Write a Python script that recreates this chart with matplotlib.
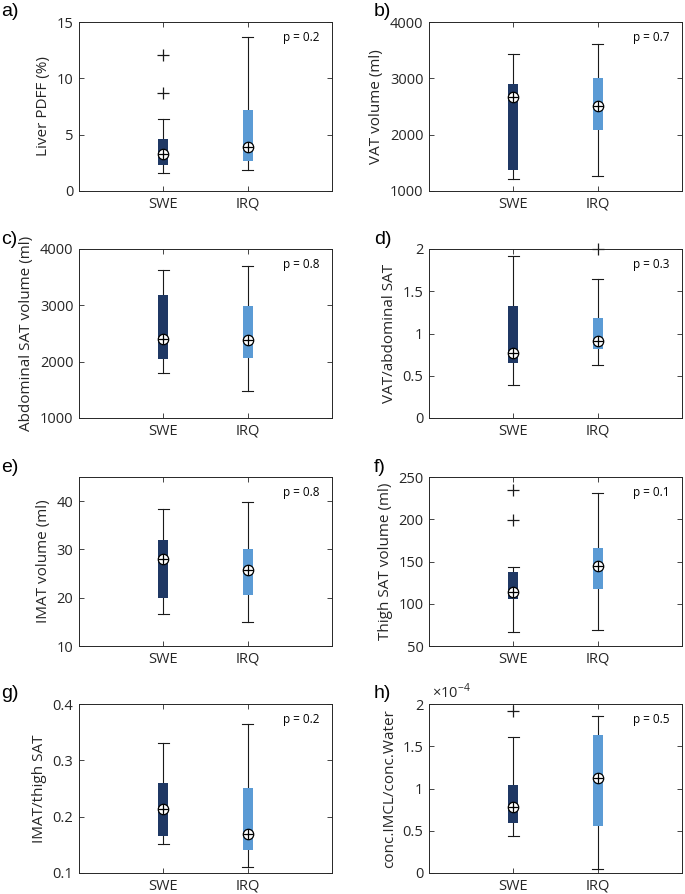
import matplotlib
matplotlib.use('Agg')
from matplotlib import pyplot as plt
import matplotlib.ticker as ticker

# five-number summaries: [whislo, q1, median, q3, whishi]
groups = ['SWE', 'IRQ']

liver_swe = [1.6, 2.34, 3.3, 4.6, 6.4]
liver_irq = [1.83, 2.7, 3.9, 7.15, 13.7]
liver_swe_out = [8.7, 12.1]
liver_irq_out = []

vat_swe = [1219, 1367, 2669, 2893, 3426]
vat_irq = [1272, 2077, 2515, 3012, 3615]
vat_swe_out = []
vat_irq_out = []

asat_swe = [1794, 2047, 2400, 3176, 3635]
asat_irq = [1476, 2059, 2388, 2988, 3694]
asat_swe_out = []
asat_irq_out = []

ratio_swe = [0.394, 0.65, 0.77, 1.33, 1.913]
ratio_irq = [0.627, 0.817, 0.915, 1.18, 1.645]
ratio_swe_out = []
ratio_irq_out = [2.0]

imat_swe = [16.6, 19.86, 28.06, 31.9, 38.3]
imat_irq = [14.93, 20.56, 25.76, 30.14, 39.86]
imat_swe_out = []
imat_irq_out = []

tsat_swe = [66.3, 105.2, 114.3, 138.1, 142.9]
tsat_irq = [68.7, 117.0, 144.8, 165.9, 230.6]
tsat_swe_out = [198.8, 234.1]
tsat_irq_out = []

imatsat_swe = [0.1516, 0.1658, 0.2132, 0.260, 0.331]
imatsat_irq = [0.1107, 0.140, 0.1688, 0.2506, 0.3638]
imatsat_swe_out = []
imatsat_irq_out = []

imcl_swe = [0.439e-4, 0.593e-4, 0.783e-4, 1.036e-4, 1.613e-4]
imcl_irq = [0.047e-4, 0.557e-4, 1.130e-4, 1.628e-4, 1.862e-4]
imcl_swe_out = [1.917e-4]
imcl_irq_out = []

panel_letters = ['a)', 'b)', 'c)', 'd)', 'e)', 'f)', 'g)', 'h)']
ylabels = ['Liver PDFF (%)', 'VAT volume (ml)', 'Abdominal SAT volume (ml)',
           'VAT/abdominal SAT', 'IMAT volume (ml)', 'Thigh SAT volume (ml)',
           'IMAT/thigh SAT', 'conc.IMCL/conc.Water']
pvalues = ['p = 0.2', 'p = 0.7', 'p = 0.8', 'p = 0.3',
           'p = 0.8', 'p = 0.1', 'p = 0.2', 'p = 0.5']
ylims = [(0, 15), (1000, 4000), (1000, 4000), (0, 2),
         (10, 45), (50, 250), (0.1, 0.4), (0, 2e-4)]
yticks = [[0, 5, 10, 15], [1000, 2000, 3000, 4000], [1000, 2000, 3000, 4000],
          [0, 0.5, 1, 1.5, 2], [10, 20, 30, 40], [50, 100, 150, 200, 250],
          [0.1, 0.2, 0.3, 0.4], [0, 0.5e-4, 1e-4, 1.5e-4, 2e-4]]

panels = [
    (liver_swe, liver_irq, liver_swe_out, liver_irq_out),
    (vat_swe, vat_irq, vat_swe_out, vat_irq_out),
    (asat_swe, asat_irq, asat_swe_out, asat_irq_out),
    (ratio_swe, ratio_irq, ratio_swe_out, ratio_irq_out),
    (imat_swe, imat_irq, imat_swe_out, imat_irq_out),
    (tsat_swe, tsat_irq, tsat_swe_out, tsat_irq_out),
    (imatsat_swe, imatsat_irq, imatsat_swe_out, imatsat_irq_out),
    (imcl_swe, imcl_irq, imcl_swe_out, imcl_irq_out),
]

colors = ['#1f3864', '#5b9bd5']
axcol = '#262626'

plt.rcParams['font.family'] = ['Open Sans', 'DejaVu Sans']
plt.rcParams['mathtext.fontset'] = 'custom'
plt.rcParams['mathtext.rm'] = 'Open Sans'

fig = plt.figure(figsize=(6.85, 8.94), dpi=100)

W, H = 685, 894
lefts = [79, 429]
tops = [22, 249, 477, 704]
aw, ah = 253, 169

for i in range(8):
    r, c = divmod(i, 2)
    ax = fig.add_axes([lefts[c] / W, 1 - (tops[r] + ah) / H, aw / W, ah / H])
    swe, irq, swe_out, irq_out = panels[i]

    stats = []
    for name, s, out in zip(groups, [swe, irq], [swe_out, irq_out]):
        stats.append(dict(label=name, whislo=s[0], q1=s[1], med=s[2], q3=s[3],
                          whishi=s[4], fliers=out))

    bp = ax.bxp(stats, positions=[1, 2], widths=0.12, capwidths=0.13,
                patch_artist=True, showfliers=True,
                whiskerprops=dict(color='#1a1a1a', lw=0.8),
                capprops=dict(color='#1a1a1a', lw=0.8),
                medianprops=dict(visible=False),
                flierprops=dict(marker='+', markeredgecolor='#1a1a1a',
                                markersize=8, markeredgewidth=0.9))
    for patch, col in zip(bp['boxes'], colors):
        patch.set_facecolor(col)
        patch.set_edgecolor('none')
        patch.set_zorder(3)
    for fl in bp['fliers']:
        fl.set_clip_on(False)

    meds = [swe[2], irq[2]]
    ax.plot([1, 2], meds, 'o', ms=7.5, mfc='white', mec='black', mew=0.9,
            ls='none', zorder=5)
    ax.plot([1, 2], meds, '+', ms=7.5, mec='black', mew=0.9,
            ls='none', zorder=6)

    ax.set_xlim(0, 3)
    ax.set_ylim(*ylims[i])
    ax.set_yticks(yticks[i])
    if i == 7:
        ax.yaxis.set_major_formatter(ticker.FuncFormatter(lambda v, p: '%g' % round(v * 1e4, 6)))
        ax.text(0.01, 1.01, r'$\times10^{-4}$', transform=ax.transAxes,
                ha='left', va='bottom', fontsize=10.5, color=axcol)
    else:
        ax.yaxis.set_major_formatter(ticker.FuncFormatter(lambda v, p: '%g' % round(v, 6)))
    ax.set_xticks([1, 2])
    ax.set_xticklabels(groups)

    ax.tick_params(direction='in', top=True, right=True, length=3.5, width=0.6,
                   colors=axcol, labelsize=10.5, pad=4)
    for sp in ax.spines.values():
        sp.set_color(axcol)
        sp.set_linewidth(0.7)

    ax.set_ylabel(ylabels[i], fontsize=11, color=axcol, labelpad=4)
    ax.text(0.95, 0.91, pvalues[i], transform=ax.transAxes, ha='right',
            va='center', fontsize=8.5, color='black')

    fig.text((lefts[c] - 79 + (1 if c == 0 else 24)) / W,
             1 - (tops[r] - 10) / H, panel_letters[i],
             fontsize=14, family='Liberation Sans', ha='left', va='center')

plt.savefig('out.png', dpi=100)
